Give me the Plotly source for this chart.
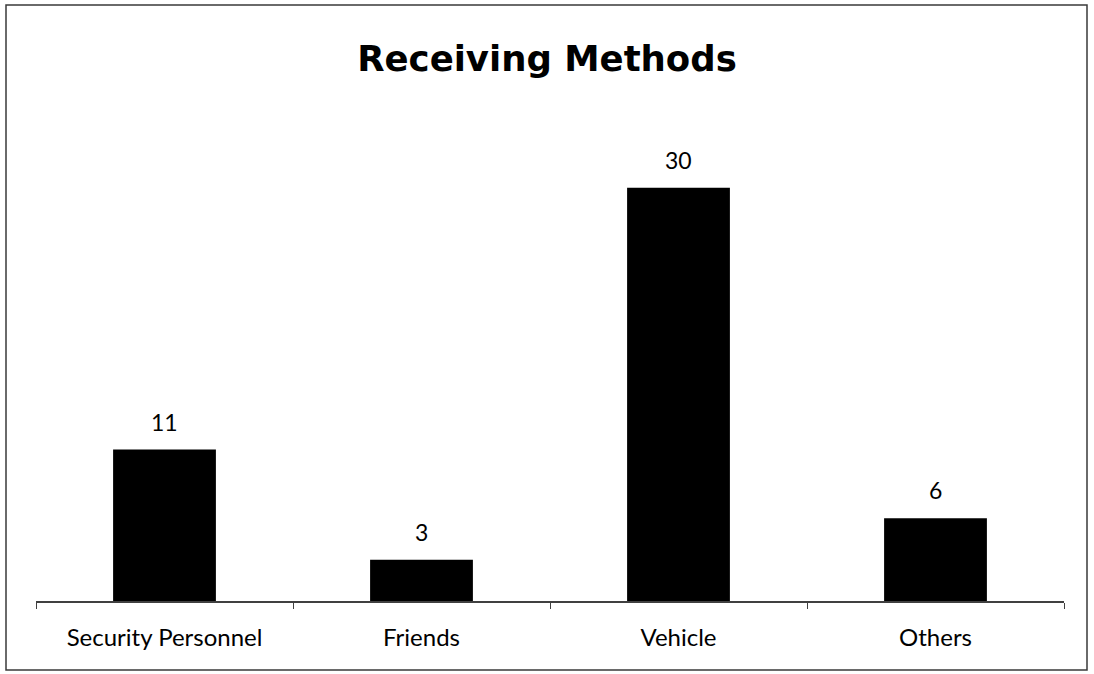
import plotly.graph_objects as go

# Receiving methods survey counts
categories = ["Security Personnel", "Friends", "Vehicle", "Others"]
counts = [11, 3, 30, 6]

FONT = "Lato, Carlito, Calibri, sans-serif"
TITLE_FONT = "DejaVu Sans, Verdana, sans-serif"

fig = go.Figure()
fig.add_trace(go.Bar(
    x=categories,
    y=counts,
    marker=dict(color="#000000", line=dict(width=0)),
    width=0.4,
    hoverinfo="x+y",
))

# value labels above each bar
for c, v in zip(categories, counts):
    fig.add_annotation(
        x=c, y=v, text=str(v), showarrow=False,
        yanchor="bottom", yshift=12,
        font=dict(family=FONT, size=23, color="#000000"),
    )

W, H = 1094, 674
L, R, T, B = 36, 30, 119, 73
pw, ph = W - L - R, H - T - B


def px_to_paper_x(px):
    return (px - L) / pw


def px_to_paper_y(py):
    return (H - B - py) / ph


# outer chart border
fig.add_shape(
    type="rect", xref="paper", yref="paper",
    x0=px_to_paper_x(6), x1=px_to_paper_x(1087),
    y0=px_to_paper_y(670), y1=px_to_paper_y(5),
    line=dict(color="#3a3a3a", width=1.5),
    fillcolor="rgba(0,0,0,0)", layer="below",
)

fig.update_layout(
    width=W, height=H,
    margin=dict(l=L, r=R, t=T, b=B),
    paper_bgcolor="white",
    plot_bgcolor="white",
    showlegend=False,
    title=dict(
        text="<b>Receiving Methods</b>",
        x=0.5, xanchor="center",
        y=1 - 59 / H, yanchor="middle",
        font=dict(family=TITLE_FONT, size=35.5, color="#000000"),
    ),
    bargap=0.6,
)

fig.update_xaxes(
    type="category",
    showline=True, linecolor="#404040", linewidth=1.5,
    ticks="outside", tickson="boundaries", ticklen=6,
    tickcolor="#404040", tickwidth=1,
    ticklabelstandoff=14,
    tickfont=dict(family=FONT, size=24, color="#000000"),
    showgrid=False, zeroline=False,
)
fig.update_yaxes(
    range=[0, 35], visible=False, showgrid=False, zeroline=False,
)

fig.write_html("out.html")
